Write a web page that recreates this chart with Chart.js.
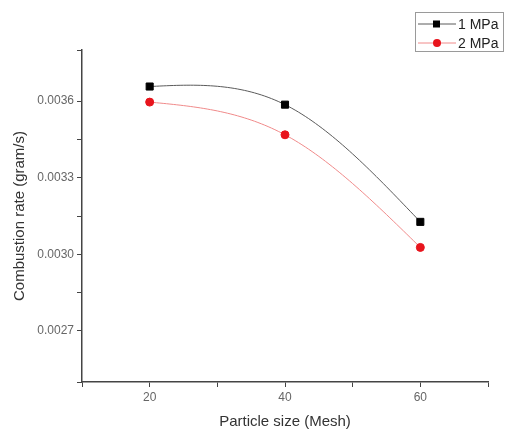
<!DOCTYPE html>
<html>
<head>
<meta charset="utf-8">
<script src="https://cdn.jsdelivr.net/npm/chart.js@4/dist/chart.umd.min.js"></script>
<style>
  body { margin: 0; background: #fff; }
  #wrap { width: 505px; height: 429px; }
</style>
</head>
<body>
<div id="wrap"><canvas id="rateChart" width="505" height="429"></canvas></div>
<script>
// data
var particleSize = [20, 40, 60];
var rate1MPa = [0.003657, 0.003586, 0.003127];
var rate2MPa = [0.003596, 0.003468, 0.003027];
var seriesLabels = ['1 MPa', '2 MPa'];

var FONT = '"Liberation Sans", Arial, sans-serif';

function toPoints(ys) {
    return particleSize.map(function (x, i) { return { x: x, y: ys[i] }; });
}

// Origin-style smooth line: natural cubic spline through the points, in pixel space
var splineLines = {
    id: 'splineLines',
    beforeDatasetsDraw: function (chart) {
        var ctx = chart.ctx;
        var xs = chart.scales.x, ys = chart.scales.y;
        ctx.save();
        chart.data.datasets.forEach(function (ds) {
            var px = ds.data.map(function (p) { return xs.getPixelForValue(p.x); });
            var py = ds.data.map(function (p) { return ys.getPixelForValue(p.y); });
            var n = px.length;
            // second derivatives (natural ends), simple tridiagonal solve
            var m = new Array(n).fill(0);
            if (n > 2) {
                var a = [], b = [], c = [], d = [];
                for (var i = 1; i < n - 1; i++) {
                    var h0 = px[i] - px[i - 1], h1 = px[i + 1] - px[i];
                    a.push(h0 / 6); b.push((h0 + h1) / 3); c.push(h1 / 6);
                    d.push((py[i + 1] - py[i]) / h1 - (py[i] - py[i - 1]) / h0);
                }
                for (var k = 1; k < b.length; k++) {
                    var w = a[k] / b[k - 1];
                    b[k] -= w * c[k - 1];
                    d[k] -= w * d[k - 1];
                }
                var sol = new Array(b.length);
                for (var k2 = b.length - 1; k2 >= 0; k2--) {
                    sol[k2] = (d[k2] - (k2 < b.length - 1 ? c[k2] * sol[k2 + 1] : 0)) / b[k2];
                }
                for (var j = 0; j < sol.length; j++) m[j + 1] = sol[j];
            }
            ctx.strokeStyle = ds.borderColor;
            ctx.lineWidth = ds.borderWidth;
            ctx.beginPath();
            ctx.moveTo(px[0], py[0]);
            for (var s = 0; s < n - 1; s++) {
                var h = px[s + 1] - px[s];
                for (var t = 1; t <= 40; t++) {
                    var x = px[s] + h * t / 40;
                    var A = (px[s + 1] - x) / h, B = (x - px[s]) / h;
                    var y = A * py[s] + B * py[s + 1] +
                        ((A * A * A - A) * m[s] + (B * B * B - B) * m[s + 1]) * h * h / 6;
                    ctx.lineTo(x, y);
                }
            }
            ctx.stroke();
        });
        ctx.restore();
    }
};

// legend box drawn by hand (line + marker sample, like Origin)
var boxLegend = {
    id: 'boxLegend',
    afterDraw: function (chart) {
        var ctx = chart.ctx;
        ctx.save();
        ctx.strokeStyle = '#9a9a9a';
        ctx.lineWidth = 1;
        ctx.strokeRect(415.5, 12.5, 88, 39);
        var rows = [24, 43];
        chart.data.datasets.forEach(function (ds, i) {
            var y = rows[i];
            ctx.strokeStyle = ds.borderColor;
            ctx.lineWidth = 1;
            ctx.beginPath();
            ctx.moveTo(418, y);
            ctx.lineTo(456, y);
            ctx.stroke();
            ctx.fillStyle = ds.pointBackgroundColor;
            if (ds.pointStyle === 'rect') {
                ctx.fillRect(433, y - 3.5, 7, 7);
            } else {
                ctx.beginPath();
                ctx.arc(437, y, 4, 0, Math.PI * 2);
                ctx.fill();
            }
            ctx.fillStyle = '#222';
            ctx.font = '14px ' + FONT;
            ctx.textBaseline = 'middle';
            ctx.fillText(ds.label, 458, y + 1);
        });
        ctx.restore();
    }
};

var ctx = document.getElementById('rateChart').getContext('2d');
var rateChart = new Chart(ctx, {
    type: 'line',
    data: {
        datasets: [{
            label: seriesLabels[0],
            data: toPoints(rate1MPa),
            showLine: false,
            borderColor: '#5a5a5a',
            borderWidth: 1,
            pointStyle: 'rect',
            pointRadius: 5,
            pointBackgroundColor: '#000',
            pointBorderColor: '#000'
        }, {
            label: seriesLabels[1],
            data: toPoints(rate2MPa),
            showLine: false,
            borderColor: '#f08a8a',
            borderWidth: 1,
            pointStyle: 'circle',
            pointRadius: 4,
            pointBackgroundColor: '#e8141c',
            pointBorderColor: '#e8141c'
        }]
    },
    options: {
        responsive: false,
        animation: false,
        layout: { padding: { top: 50, right: 17, left: 0, bottom: 0 } },
        plugins: {
            legend: { display: false },
            tooltip: { enabled: false }
        },
        scales: {
            x: {
                type: 'linear',
                min: 10,
                max: 70,
                afterFit: function (axis) { axis.height = 47; },
                ticks: {
                    stepSize: 10,
                    autoSkip: false,
                    maxRotation: 0,
                    color: '#666',
                    font: { size: 12, family: FONT },
                    padding: 3,
                    callback: function (v) { return (v === 20 || v === 40 || v === 60) ? String(v) : ''; }
                },
                grid: { drawOnChartArea: false, tickLength: 5, color: '#444' },
                border: { color: '#444', width: 1.5 },
                title: {
                    display: true,
                    text: 'Particle size (Mesh)',
                    color: '#333',
                    font: { size: 15, family: FONT },
                    padding: { top: 0, bottom: -2 }
                }
            },
            y: {
                min: 0.0025,
                max: 0.0038,
                afterFit: function (axis) { axis.width = 82; },
                ticks: {
                    stepSize: 0.00015,
                    autoSkip: false,
                    color: '#666',
                    font: { size: 12, family: FONT },
                    padding: 3,
                    callback: function (v) {
                        var k = v / 0.0003;
                        return Math.abs(k - Math.round(k)) < 1e-6 && v > 0.00255 ? v.toFixed(4) : '';
                    }
                },
                grid: { drawOnChartArea: false, tickLength: 5, color: '#444' },
                border: { color: '#444', width: 1.5 },
                title: {
                    display: true,
                    text: 'Combustion rate (gram/s)',
                    color: '#333',
                    font: { size: 15, family: FONT },
                    padding: { top: 11, bottom: 0 }
                }
            }
        }
    },
    plugins: [splineLines, boxLegend]
});
</script>
</body>
</html>
